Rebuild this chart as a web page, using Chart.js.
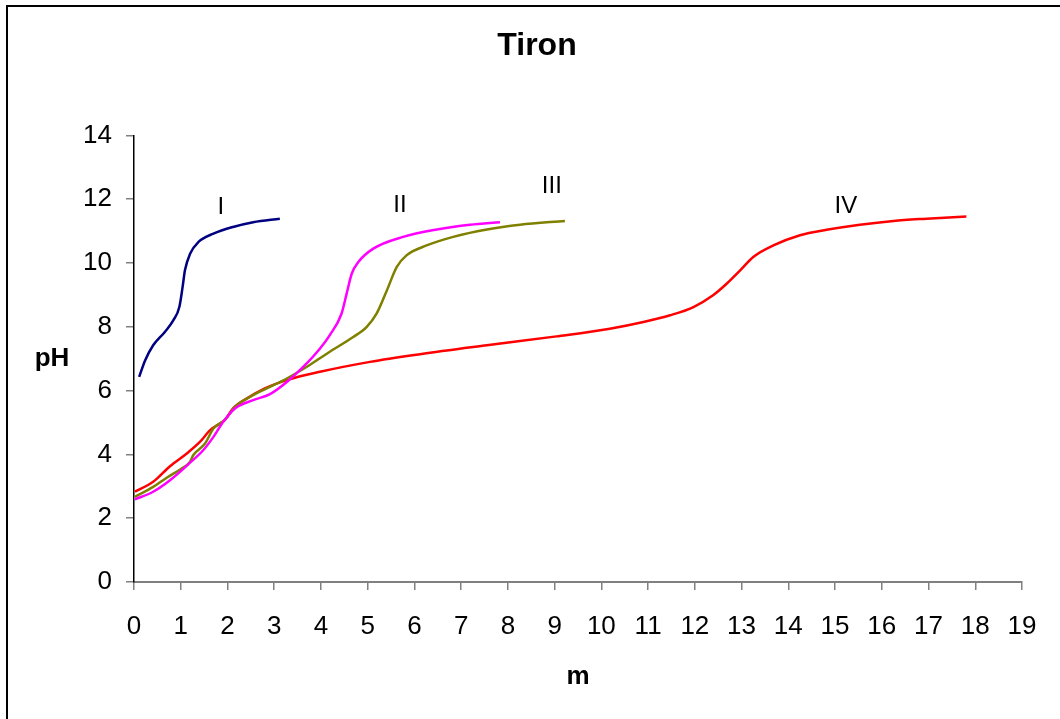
<!DOCTYPE html>
<html>
<head>
<meta charset="utf-8">
<title>Tiron</title>
<script src="https://cdn.jsdelivr.net/npm/chart.js@4.4.0/dist/chart.umd.min.js"></script>
<style>
  html, body { margin: 0; padding: 0; background: #fff; }
  #wrap { width: 1060px; height: 719px; }
</style>
</head>
<body>
<div id="wrap"><canvas id="tironChart"></canvas></div>
<script>
// Titration curves, pH against m
const curveI_m  = [0.11, 0.24, 0.41, 0.66, 0.84, 0.97, 1.04, 1.09, 1.20, 1.38, 1.70, 2.12, 2.55, 3.12];
const curveI_pH = [6.43, 6.95, 7.42, 7.84, 8.20, 8.62, 9.25, 9.77, 10.29, 10.66, 10.92, 11.13, 11.28, 11.39];

const curveII_m  = [0.02, 0.41, 0.77, 1.20, 1.48, 1.70, 1.91, 2.16, 2.55, 2.91, 3.27, 3.62, 3.98, 4.19, 4.44, 4.55, 4.66, 4.80, 5.12, 5.76, 6.48, 7.19, 7.83];
const curveII_pH = [2.59, 2.83, 3.19, 3.74, 4.13, 4.55, 5.02, 5.44, 5.70, 5.89, 6.27, 6.74, 7.32, 7.74, 8.41, 9.04, 9.67, 10.03, 10.45, 10.82, 11.05, 11.20, 11.28];

const curveIII_m  = [0.02, 0.41, 0.70, 1.02, 1.20, 1.27, 1.52, 1.70, 1.95, 2.16, 2.48, 2.84, 3.27, 3.69, 4.19, 4.69, 4.98, 5.19, 5.41, 5.62, 5.83, 6.26, 6.83, 7.55, 8.26, 9.22];
const curveIII_pH = [2.67, 2.98, 3.27, 3.56, 3.77, 3.98, 4.34, 4.81, 5.09, 5.49, 5.80, 6.07, 6.38, 6.74, 7.22, 7.68, 8.00, 8.41, 9.14, 9.87, 10.24, 10.55, 10.82, 11.05, 11.20, 11.32];

const curveIV_m  = [0.02, 0.41, 0.77, 1.13, 1.41, 1.63, 1.95, 2.12, 2.41, 2.80, 3.27, 3.98, 5.05, 6.12, 7.55, 9.04, 10.18, 10.90, 11.47, 11.97, 12.39, 12.68, 12.97, 13.25, 13.68, 14.25, 14.82, 15.53, 16.25, 16.96, 17.81];
const curveIV_pH = [2.83, 3.14, 3.63, 4.03, 4.39, 4.76, 5.09, 5.44, 5.75, 6.07, 6.33, 6.59, 6.90, 7.14, 7.42, 7.70, 7.94, 8.15, 8.36, 8.62, 8.99, 9.35, 9.77, 10.19, 10.55, 10.87, 11.04, 11.20, 11.32, 11.39, 11.46];

const curveNames  = ['I', 'II', 'III', 'IV'];
const curveColors = ['#000080', '#FF00FF', '#808000', '#FF0000'];
// where each roman numeral sits (m, pH)
const labelM  = [1.86, 5.69, 8.94, 15.23];
const labelPH = [11.75, 11.8, 12.4, 11.78];

const xTicks = [0, 1, 2, 3, 4, 5, 6, 7, 8, 9, 10, 11, 12, 13, 14, 15, 16, 17, 18, 19];
const yTicks = [0, 2, 4, 6, 8, 10, 12, 14];

const FONT = '"Liberation Sans", Arial, sans-serif';

function toPoints(xs, ys) {
  return xs.map((x, i) => ({ x, y: ys[i] }));
}

const seriesX = [curveI_m, curveII_m, curveIII_m, curveIV_m];
const seriesY = [curveI_pH, curveII_pH, curveIII_pH, curveIV_pH];

const datasets = curveNames.map((name, i) => ({
  label: name,
  data: toPoints(seriesX[i], seriesY[i]),
  borderColor: curveColors[i],
  borderWidth: 2.5,
  showLine: true,
  pointRadius: 0,
  cubicInterpolationMode: 'monotone',
  fill: false
}));

// outer frame, "pH" label and the curve numerals
const decorPlugin = {
  id: 'decor',
  beforeDraw(chart) {
    const ctx = chart.ctx;
    ctx.save();
    ctx.strokeStyle = '#000';
    ctx.lineWidth = 2;
    ctx.beginPath();
    ctx.moveTo(7, 719);
    ctx.lineTo(7, 6);
    ctx.lineTo(1060, 6);
    ctx.stroke();
    ctx.restore();
  },
  afterDraw(chart) {
    const ctx = chart.ctx;
    const xs = chart.scales.x;
    const ys = chart.scales.y;
    ctx.save();
    ctx.fillStyle = '#000';
    ctx.textAlign = 'center';
    ctx.textBaseline = 'middle';
    ctx.font = 'bold 26px ' + FONT;
    ctx.fillText('pH', 52, ys.getPixelForValue(7));
    ctx.font = '24px ' + FONT;
    curveNames.forEach((name, i) => {
      ctx.fillText(name, xs.getPixelForValue(labelM[i]), ys.getPixelForValue(labelPH[i]));
    });
    ctx.restore();
  }
};

new Chart(document.getElementById('tironChart'), {
  type: 'scatter',
  data: { datasets },
  options: {
    responsive: true,
    maintainAspectRatio: false,
    animation: false,
    layout: { padding: { left: 52, right: 38, top: 0, bottom: 0 } },
    plugins: {
      legend: { display: false },
      tooltip: { enabled: false },
      title: {
        display: true,
        text: 'Tiron',
        color: '#000',
        font: { family: FONT, size: 32, weight: 'bold' },
        padding: { top: 27, bottom: 70 }
      }
    },
    scales: {
      x: {
        type: 'linear',
        min: 0,
        max: 19,
        afterFit: scale => { scale.height = 137; },
        afterBuildTicks: scale => { scale.ticks = xTicks.map(v => ({ value: v })); },
        border: { color: '#808080', width: 2 },
        grid: { drawOnChartArea: false, drawTicks: true, tickLength: 8, color: '#808080', lineWidth: 1.5 },
        ticks: { color: '#000', padding: 21, maxRotation: 0, font: { family: FONT, size: 26 } },
        title: {
          display: true,
          text: 'm',
          color: '#000',
          font: { family: FONT, size: 26, weight: 'bold' },
          padding: { top: 0, bottom: 27 }
        }
      },
      y: {
        type: 'linear',
        min: 0,
        max: 14,
        afterFit: scale => { scale.width = 82; },
        afterBuildTicks: scale => { scale.ticks = yTicks.map(v => ({ value: v })); },
        border: { color: '#000', width: 1.5 },
        grid: { drawOnChartArea: false, drawTicks: true, tickLength: 8, color: '#808080', lineWidth: 1.5 },
        ticks: { color: '#000', padding: 14, font: { family: FONT, size: 26 } }
      }
    }
  },
  plugins: [decorPlugin]
});
</script>
</body>
</html>
